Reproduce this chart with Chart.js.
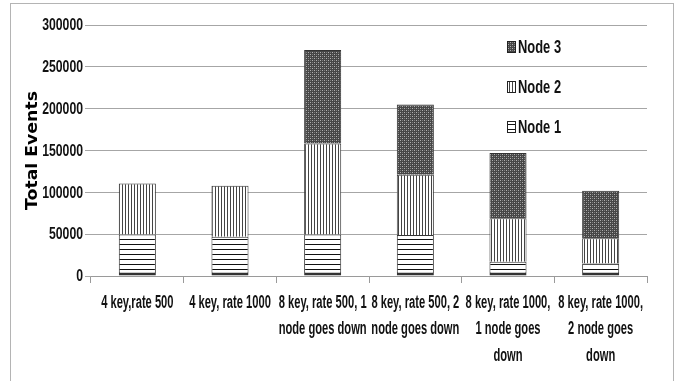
<!DOCTYPE html>
<html>
<head>
<meta charset="utf-8">
<script src="https://cdn.jsdelivr.net/npm/chart.js@4/dist/chart.umd.min.js"></script>
<style>
  html, body { margin: 0; padding: 0; background: #fff; }
  #wrap { width: 680px; height: 381px; position: relative; }
</style>
</head>
<body>
<div id="wrap"><canvas id="c" width="680" height="381"></canvas></div>
<script>
// Test scenarios along the x axis
const categories = [
  '4 key,rate 500',
  '4 key, rate 1000',
  ['8 key, rate 500, 1', 'node goes down'],
  ['8 key, rate 500, 2', 'node goes down'],
  ['8 key, rate 1000,', '1 node goes', 'down'],
  ['8 key, rate 1000,', '2 node goes', 'down']
];

// Events handled by each node
const node1 = [49500, 47000, 49500, 49000, 17000, 15000];
const node2 = [61000, 61000, 109000, 72000, 52000, 30000];
const node3 = [null, null, 111500, 84000, 78000, 57000];

const seriesNames = ['Node 1', 'Node 2', 'Node 3'];
const yTicks = [0, 50000, 100000, 150000, 200000, 250000, 300000];
const yTitle = 'Total Events';

const FONT = '"Liberation Sans", Arial, sans-serif';

// Monochrome hatch fills
function makePattern(w, h, paint) {
  const cv = document.createElement('canvas');
  cv.width = w; cv.height = h;
  const g = cv.getContext('2d');
  paint(g);
  return g.createPattern(cv, 'repeat');
}
const ctx = document.getElementById('c').getContext('2d');
const hLines = makePattern(1, 5, g => {
  g.fillStyle = '#fff'; g.fillRect(0, 0, 1, 5);
  g.fillStyle = '#111'; g.fillRect(0, 4, 1, 1);
});
const vLines = makePattern(3, 1, g => {
  g.fillStyle = '#fff'; g.fillRect(0, 0, 3, 1);
  g.fillStyle = '#444'; g.fillRect(2, 0, 1, 1);
});
const dots = makePattern(4, 4, g => {
  g.fillStyle = '#464646'; g.fillRect(0, 0, 4, 4);
  g.fillStyle = '#b0b0b0';
  g.fillRect(0, 0, 1, 1); g.fillRect(2, 2, 1, 1);
  g.fillStyle = '#7a7a7a';
  g.fillRect(2, 0, 1, 1); g.fillRect(0, 2, 1, 1);
});

// Text squeezed along its run for a tall, condensed face
function squeezedText(c, text, x, y, align, sx, rot) {
  c.save();
  c.translate(x, y);
  if (rot) c.rotate(rot);
  c.scale(sx, 1);
  c.textAlign = align;
  c.fillText(text, 0, 0);
  c.restore();
}

// Outer frame of the figure
const framePlugin = {
  id: 'frame',
  beforeDraw(chart) {
    const c = chart.ctx;
    c.save();
    c.fillStyle = '#fff';
    c.fillRect(0, 0, chart.width, chart.height);
    c.strokeStyle = '#b4b4b4';
    c.lineWidth = 1;
    c.strokeRect(10.5, 3.5, 663, 390);
    c.restore();
  }
};

// Tick labels and axis title, placed from the scales
const axisTextPlugin = {
  id: 'axisText',
  afterDraw(chart) {
    const c = chart.ctx;
    const xs = chart.scales.x, ys = chart.scales.y;
    const area = chart.chartArea;
    c.save();
    c.fillStyle = '#111';
    c.textBaseline = 'middle';
    c.font = 'bold 18px ' + FONT;
    chart.data.labels.forEach((lab, i) => {
      const lines = Array.isArray(lab) ? lab : [lab];
      const x = xs.getPixelForTick(i);
      lines.forEach((ln, k) => squeezedText(c, ln, x, xs.top + 27 + k * 26.5, 'center', 0.62));
    });
    c.font = 'bold 17px ' + FONT;
    yTicks.forEach(v => {
      squeezedText(c, String(v), ys.right - 8, ys.getPixelForValue(v) + 0.5, 'right', 0.72);
    });
    c.fillStyle = '#000';
    c.font = 'bold 16px "DejaVu Sans", Verdana, sans-serif';
    squeezedText(c, yTitle, 33, (area.top + area.bottom) / 2, 'center', 1.08, -Math.PI / 2);
    c.restore();
  }
};

// Legend stacked top-down inside the plot, last series first
const legendPlugin = {
  id: 'insideLegend',
  afterDraw(chart) {
    const c = chart.ctx;
    const ds = chart.data.datasets;
    const x = 507, y0 = 47, step = 40;
    c.save();
    c.font = 'bold 19px ' + FONT;
    c.textBaseline = 'middle';
    for (let k = 0; k < ds.length; k++) {
      const d = ds[ds.length - 1 - k];
      const y = y0 + k * step;
      c.fillStyle = d.backgroundColor;
      c.fillRect(x, y - 6, 9, 12);
      c.strokeStyle = '#222';
      c.lineWidth = 1;
      c.strokeRect(x + 0.5, y - 5.5, 8, 11);
      c.fillStyle = '#111';
      squeezedText(c, d.label, x + 11, y + 1, 'left', 0.68);
    }
    c.restore();
  }
};

new Chart(ctx, {
  type: 'bar',
  data: {
    labels: categories,
    datasets: [
      { label: seriesNames[0], data: node1, backgroundColor: hLines, borderColor: '#333',
        borderWidth: { top: 1, left: 1, right: 1, bottom: 3 }, borderSkipped: false },
      { label: seriesNames[1], data: node2, backgroundColor: vLines, borderColor: '#333', borderWidth: 1 },
      { label: seriesNames[2], data: node3, backgroundColor: dots, borderColor: '#333', borderWidth: 1 }
    ]
  },
  options: {
    responsive: false,
    animation: false,
    devicePixelRatio: 1,
    layout: { padding: { top: 25, right: 33, left: 0, bottom: 0 } },
    datasets: { bar: { barPercentage: 0.4, categoryPercentage: 1 } },
    plugins: { legend: { display: false }, tooltip: { enabled: false } },
    scales: {
      x: {
        stacked: true,
        afterFit(s) { s.height = 105; },
        grid: { drawOnChartArea: false, drawTicks: true, tickLength: 7, color: '#9a9a9a', offset: true },
        border: { display: true, color: '#9a9a9a' },
        ticks: { display: false, autoSkip: false, maxRotation: 0 }
      },
      y: {
        stacked: true,
        min: 0, max: 300000,
        afterFit(s) { s.width = 91; },
        afterBuildTicks(s) { s.ticks = yTicks.map(v => ({ value: v })); },
        grid: { color: '#a6a6a6', tickLength: 6, drawTicks: true },
        border: { display: false },
        ticks: { display: false },
        title: { display: false }
      }
    }
  },
  plugins: [framePlugin, axisTextPlugin, legendPlugin]
});
</script>
</body>
</html>
